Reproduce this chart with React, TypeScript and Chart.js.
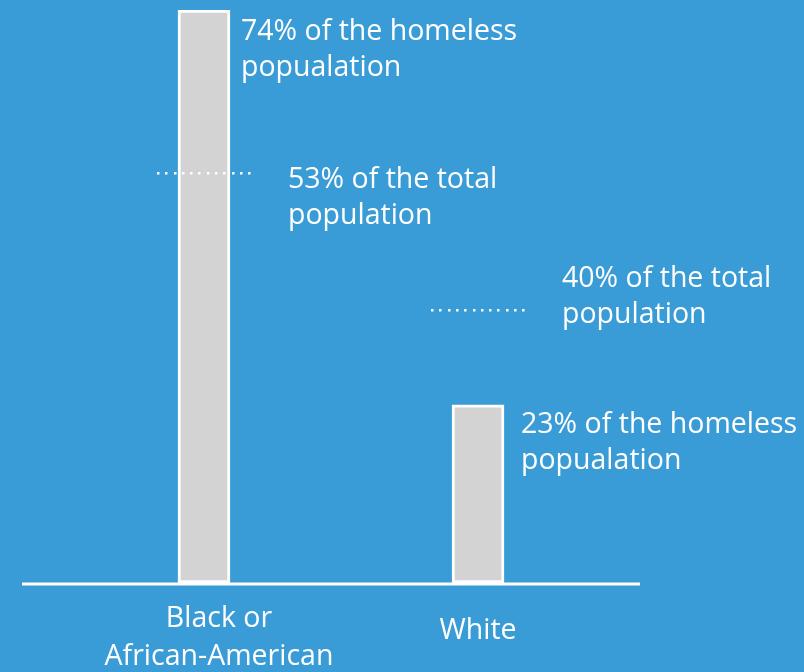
import React, { useEffect, useRef } from "react";
import { Chart, registerables } from "chart.js";

Chart.register(...registerables);

const categories = [["Black or", "African-American"], ["White"]];
const homelessPct = [74, 23];
// vertical positions of the dotted "total population" markers as drawn in the picture
const totalMarkerPos = [53, 35.2];
const homelessLabels = [
  ["74% of the homeless", "popualation"],
  ["23% of the homeless", "popualation"],
];
const totalLabels = [
  ["53% of the total", "population"],
  ["40% of the total", "population"],
];

const BG = "#3a9cd6";
const FONT = "'Open Sans', 'Noto Sans', sans-serif";

const overlayPlugin = {
  id: "overlay",
  afterDatasetsDraw(chart: any) {
    const { ctx, chartArea, scales } = chart;
    const xs = scales.x;
    const ys = scales.y;
    ctx.save();
    // baseline
    const y0 = ys.getPixelForValue(0);
    ctx.strokeStyle = "#ffffff";
    ctx.lineWidth = 3;
    ctx.beginPath();
    ctx.moveTo(chartArea.left, y0 + 1);
    ctx.lineTo(chartArea.right, y0 + 1);
    ctx.stroke();

    // dotted markers
    ctx.fillStyle = "#ffffff";
    totalMarkerPos.forEach((v, i) => {
      const cx = xs.getPixelForValue(i + 1);
      const y = ys.getPixelForValue(v);
      const x0 = cx - 47;
      const x1 = cx + 52;
      for (let x = x0; x <= x1; x += 8.3) {
        ctx.fillRect(Math.round(x), Math.round(y - 1), 2.5, 2.5);
      }
    });

    ctx.font = `28.5px ${FONT}`;
    ctx.textBaseline = "middle";
    ctx.textAlign = "left";
    const lh = 36;
    // homeless labels next to bar tops
    homelessPct.forEach((v, i) => {
      const cx = xs.getPixelForValue(i + 1);
      const yt = ys.getPixelForValue(v);
      const offX = i === 0 ? 37 : 43;
      const offY = i === 0 ? 22 : 20;
      homelessLabels[i].forEach((t, k) => {
        ctx.fillText(t, cx + offX, yt + offY + k * lh);
      });
    });
    // total labels next to dotted markers
    totalMarkerPos.forEach((v, i) => {
      const cx = xs.getPixelForValue(i + 1);
      const y = ys.getPixelForValue(v);
      const offY = i === 0 ? 7 : -32;
      totalLabels[i].forEach((t, k) => {
        ctx.fillText(t, cx + 84, y + offY + k * lh);
      });
    });

    // category labels
    ctx.textAlign = "center";
    categories.forEach((lines, i) => {
      const cx = xs.getPixelForValue(i + 1) + (i === 0 ? 15 : 0);
      const mid = i === 0 ? 638 : 631;
      const start = mid - ((lines.length - 1) * 38) / 2;
      lines.forEach((t, k) => {
        ctx.fillText(t, cx, start + k * 38);
      });
    });
    ctx.restore();
  },
};

export default function App() {
  const ref = useRef<HTMLCanvasElement>(null);
  useEffect(() => {
    if (!ref.current) return;
    const chart = new Chart(ref.current, {
      type: "bar",
      data: {
        datasets: [
          {
            data: homelessPct.map((v, i) => ({ x: i + 1, y: v })),
            backgroundColor: "#d3d3d3",
            borderColor: "#ffffff",
            borderWidth: 3,
            borderSkipped: false,
            barThickness: 52,
          },
        ],
      },
      options: {
        responsive: false,
        animation: false,
        layout: { padding: { left: 22, right: 164, top: 10, bottom: 89 } },
        plugins: { legend: { display: false }, tooltip: { enabled: false } },
        scales: {
          x: { type: "linear", display: false, offset: false, min: 0.336, max: 2.591 },
          y: { display: false, min: 0, max: 74 },
        },
      },
      plugins: [overlayPlugin],
    });
    return () => chart.destroy();
  }, []);
  return (
    <div style={{ position: "fixed", left: 0, top: 0, width: 804, height: 672, background: BG }}>
      <canvas ref={ref} width={804} height={672} style={{ width: 804, height: 672 }} />
    </div>
  );
}
